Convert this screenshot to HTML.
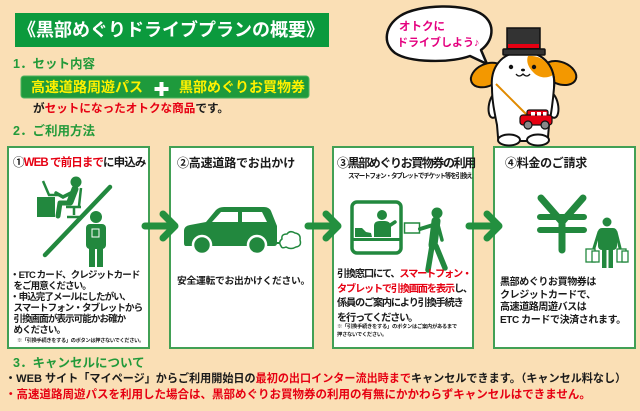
<!DOCTYPE html>
<html><head><meta charset="utf-8">
<style>
html,body{margin:0;padding:0;}
body{width:640px;height:411px;background:#FADFB5;position:relative;overflow:hidden;}
.t{position:absolute;white-space:nowrap;font-family:"Liberation Sans","Noto Sans CJK JP",sans-serif;font-weight:bold;line-height:1;color:#1a1a1a;}
.g{color:#229A3A;}
.r{color:#E60012;}
svg{position:absolute;left:0;top:0;}
</style></head><body>
<svg width="640" height="411" viewBox="0 0 640 411" xmlns="http://www.w3.org/2000/svg">
  <rect x="15" y="13" width="314" height="34" fill="#0B9A3D"/>
  <rect x="21" y="76" width="288" height="22" rx="3" fill="#1E9A3C" stroke="#4DB35F" stroke-width="1"/>
  <rect x="159.5" y="82" width="4" height="14" fill="#fff"/>
  <rect x="154.5" y="87" width="14" height="4" fill="#fff"/>

  <g fill="#fff" stroke="#42A055" stroke-width="2">
    <rect x="8" y="147" width="141" height="201"/>
    <rect x="170" y="147" width="143" height="201"/>
    <rect x="333" y="147" width="140" height="201"/>
    <rect x="494" y="147" width="141" height="201"/>
  </g>

  <g stroke="#23903F" stroke-width="7" stroke-linecap="round" stroke-linejoin="round" fill="none">
    <path d="M145,226 L172,226 M163,214 L175,226 L163,238"/>
    <path d="M308,226 L335,226 M326,214 L338,226 L326,238"/>
    <path d="M469,226 L496,226 M487,214 L499,226 L487,238"/>
  </g>

  <g fill="#22883E" stroke="#22883E">
    <rect x="37" y="197" width="18" height="20" stroke="none"/>
    <path d="M43,181 L49,195 L60,195" fill="none" stroke-width="2.5"/>
    <circle cx="76" cy="182" r="5.5" stroke="none"/>
    <path d="M75,189 L70,202" stroke-width="7" stroke-linecap="round" fill="none"/>
    <path d="M73,192 L63,197 L56,193" stroke-width="3.5" stroke-linecap="round" fill="none"/>
    <path d="M70,203 L60,203 L58,216" stroke-width="5" stroke-linecap="round" stroke-linejoin="round" fill="none"/>
    <path d="M81,188 L79,206 M66,207 L81,207 M74,207 L74,215 M67,217 L81,217" stroke-width="2.5" fill="none"/>
    <path d="M45,255 L110,187" stroke-width="4.5" stroke-linecap="round" fill="none"/>
    <circle cx="96" cy="217" r="6" stroke="none"/>
    <rect x="86" y="224" width="20" height="25" rx="4" stroke="none"/>
    <rect x="89" y="246" width="6" height="21" stroke="none"/>
    <rect x="97" y="246" width="6" height="21" stroke="none"/>
    <rect x="92" y="229" width="7" height="8" fill="none" stroke="#fff" stroke-width="1"/>
  </g>

  <g>
    <path d="M184,240 L184,231 Q184,226 190,225 L206,222 L216,210 Q219,207 224,207 L264,207 Q269,207 271,211 L277,226 L277,243 Q277,246 274,246 L186,246 Q184,246 184,243 Z" fill="#22883E"/>
    <polygon points="212,222 221,212 238,212 238,222" fill="#fff"/>
    <polygon points="242,212 262,212 267,222 242,222" fill="#fff"/>
    <circle cx="202" cy="245" r="9" fill="#22883E" stroke="#fff" stroke-width="2.5"/>
    <circle cx="257" cy="245" r="9" fill="#22883E" stroke="#fff" stroke-width="2.5"/>
    <path d="M273,243 L280,243" stroke="#22883E" stroke-width="2"/>
    <path d="M281,246 Q278,242 282,239 Q281,234 287,234 Q290,230 295,233 Q301,234 300,240 Q302,246 296,247 Q291,250 286,247 Q282,249 281,246 Z" fill="#fff" stroke="#22883E" stroke-width="1.5"/>
  </g>

  <g fill="#22883E">
    <rect x="352" y="202" width="49" height="51" rx="5" fill="none" stroke="#22883E" stroke-width="3.5"/>
    <rect x="352" y="238" width="49" height="3"/>
    <path d="M355,237 L355,228 L362,228 L366,232 L371,233 L372,237 Z"/>
    <circle cx="382" cy="215" r="5"/>
    <path d="M374,237 L374,226 Q374,221 380,221 L385,221 Q390,221 391,226 L391,237 Z"/>
    <path d="M389,226 L395,222" stroke="#22883E" stroke-width="3.5" stroke-linecap="round"/>
    <rect x="404.5" y="223" width="15" height="10" fill="#fff" stroke="#22883E" stroke-width="1.5"/>
    <circle cx="437" cy="213" r="5.5"/>
    <path d="M436,221 L433,245" stroke="#22883E" stroke-width="9" stroke-linecap="round"/>
    <path d="M433,225 L420,229" stroke="#22883E" stroke-width="4" stroke-linecap="round"/>
    <path d="M438,225 L442,240" stroke="#22883E" stroke-width="3.5" stroke-linecap="round"/>
    <path d="M432,246 L428,270 M436,246 L445,268" stroke="#22883E" stroke-width="5.5" stroke-linecap="round"/>
  </g>

  <g stroke="#22883E" stroke-linecap="round" fill="none">
    <path d="M541,198 L562,222 L583,198" stroke-width="7" stroke-linejoin="round"/>
    <path d="M540,217 L584,217 M540,230 L584,230" stroke-width="6"/>
    <path d="M562,222 L562,250" stroke-width="7"/>
  </g>
  <g fill="#22883E">
    <circle cx="607" cy="222" r="4.5"/>
    <rect x="598" y="228" width="19" height="22" rx="4"/>
    <rect x="602" y="246" width="4.5" height="22"/>
    <rect x="608.5" y="246" width="4.5" height="22"/>
    <path d="M599,232 L594,248 M616,232 L620,248" stroke="#22883E" stroke-width="3" stroke-linecap="round"/>
    <g fill="#fff" stroke="#22883E" stroke-width="1.3">
      <rect x="586" y="249" width="9" height="13"/>
      <rect x="592" y="251" width="7" height="11"/>
      <rect x="617" y="249" width="9" height="13"/>
      <rect x="622" y="251" width="6" height="11"/>
    </g>
  </g>

  <path d="M400,16 C418,4 466,3 483,15 C496,25 493,41 481,50 L487,64 L470,56 C450,63 410,63 395,53 C382,43 385,26 400,16 Z" fill="#fff" stroke="#111" stroke-width="2.5" stroke-linejoin="round"/>

  <g stroke="#111" stroke-width="2">
    <ellipse cx="487" cy="75" rx="17" ry="11" transform="rotate(-25 487 75)" fill="#F39800"/>
    <ellipse cx="560" cy="73" rx="17" ry="11" transform="rotate(22 560 73)" fill="#F39800"/>
    <ellipse cx="495" cy="105" rx="6" ry="13" transform="rotate(12 495 105)" fill="#fff"/>
    <ellipse cx="552" cy="105" rx="6" ry="13" transform="rotate(-12 552 105)" fill="#fff"/>
    <path d="M523,52 C545,52 556,68 554,88 C553,100 552,110 549,125 L548,137 C548,144 538,144 528,141 L519,141 C508,144 498,144 498,137 L497,125 C494,110 492,100 492,88 C490,68 501,52 523,52 Z" fill="#fff"/>
    <ellipse cx="509" cy="140" rx="11" ry="5.5" fill="#fff"/>
    <ellipse cx="538" cy="140" rx="11" ry="5.5" fill="#fff"/>
  </g>
  <path d="M528,56 C540,55 550,62 553,75 C547,79 538,78 533,72 C528,67 526,61 528,56 Z" fill="#F39800"/>
  <path d="M523,52 C545,52 556,68 554,88" fill="none" stroke="#111" stroke-width="2"/>
  <circle cx="511" cy="67" r="2.2" fill="#111"/>
  <circle cx="534" cy="67" r="2.2" fill="#111"/>
  <ellipse cx="523" cy="70" rx="2" ry="1.4" fill="#111"/>
  <path d="M516,74 Q519,78 523,74 Q527,78 530,74" fill="none" stroke="#111" stroke-width="1.3"/>
  <path d="M496,84 L527,115" stroke="#E08A00" stroke-width="2"/>
  <rect x="507" y="28" width="33" height="20" fill="#333" stroke="#111" stroke-width="1.5"/>
  <rect x="508" y="44" width="31" height="4" fill="#E60012"/>
  <rect x="503" y="49" width="42" height="6" rx="1" fill="#333" stroke="#111" stroke-width="1.5"/>
  <rect x="527" y="110" width="21" height="9" rx="2" fill="#E60012" stroke="#111" stroke-width="1.2"/>
  <rect x="520" y="115" width="32" height="10" rx="3" fill="#E60012" stroke="#111" stroke-width="1.2"/>
  <rect x="531" y="112" width="4" height="3.5" fill="#fff"/>
  <rect x="537" y="112" width="4" height="3.5" fill="#fff"/>
  <rect x="543" y="112" width="3.5" height="3.5" fill="#fff"/>
  <circle cx="528" cy="125" r="4" fill="#888" stroke="#111" stroke-width="1.2"/>
  <circle cx="545" cy="125" r="4" fill="#888" stroke="#111" stroke-width="1.2"/>
</svg>

<div class="t" style="left:18px;top:21px;font-size:18px;color:#fff;">《黒部めぐりドライブプランの概要》</div>

<div class="t g" style="left:13px;top:58px;font-size:12.5px;">1．セット内容</div>
<div class="t" style="left:31px;top:80px;font-size:14px;color:#FFF100;">高速道路周遊パス</div>
<div class="t" style="left:179px;top:80px;font-size:14px;color:#FFF100;">黒部めぐりお買物券</div>
<div class="t" style="left:33px;top:103px;font-size:11.6px;">が<span class="r">セットになったオトクな商品</span>です。</div>
<div class="t g" style="left:13px;top:125px;font-size:12.5px;">2．ご利用方法</div>

<div class="t" style="left:13px;top:158px;font-size:11.5px;letter-spacing:-0.9px;">①<span class="r">WEB で前日まで</span>に申込み</div>
<div class="t" style="left:177px;top:157px;font-size:12px;letter-spacing:-0.2px;">②高速道路でお出かけ</div>
<div class="t" style="left:337px;top:157px;font-size:12px;letter-spacing:-1.4px;">③黒部めぐりお買物券の利用</div>
<div class="t" style="left:348px;top:174px;font-size:6.6px;letter-spacing:-1.2px;">スマートフォン・タブレットでチケット等を引換え</div>
<div class="t" style="left:505px;top:157px;font-size:12px;letter-spacing:-0.3px;">④料金のご請求</div>

<div class="t" style="left:10px;top:270px;font-size:9.5px;letter-spacing:-0.9px;line-height:11px;">・ETC カード、クレジットカード<br>&nbsp;&nbsp;をご用意ください。<br>・申込完了メールにしたがい、<br>&nbsp;&nbsp;スマートフォン・タブレットから<br>&nbsp;&nbsp;引換画面が表示可能かお確か<br>&nbsp;&nbsp;めください。</div>
<div class="t" style="left:17px;top:339px;font-size:5.2px;letter-spacing:-0.3px;">※「引換手続きをする」のボタンは押さないでください。</div>

<div class="t" style="left:177px;top:277px;font-size:9.8px;letter-spacing:-0.3px;">安全運転でお出かけください。</div>

<div class="t" style="left:337px;top:268px;font-size:10.2px;letter-spacing:-1.2px;line-height:14.6px;">引換窓口にて、<span class="r">スマートフォン・</span><br><span class="r">タブレットで引換画面を表示</span>し、<br>係員のご案内により引換手続き<br>を行ってください。</div>
<div class="t" style="left:337px;top:323px;font-size:5.3px;letter-spacing:-0.3px;line-height:8px;">※「引換手続きをする」のボタンはご案内があるまで<br>押さないでください。</div>

<div class="t" style="left:500px;top:277px;font-size:10px;letter-spacing:-0.4px;line-height:12.7px;">黒部めぐりお買物券は<br>クレジットカードで、<br>高速道路周遊バスは<br>ETC カードで決済されます。</div>

<div class="t" style="left:399px;top:22px;font-size:11.5px;color:#E4007F;">オトクに</div>
<div class="t" style="left:397px;top:38px;font-size:11px;color:#E4007F;">ドライブしよう♪</div>

<div class="t g" style="left:13px;top:357px;font-size:12.5px;">3．キャンセルについて</div>
<div class="t" style="left:5px;top:374px;font-size:11.1px;">・WEB サイト「マイページ」からご利用開始日の<span class="r">最初の出口インター流出時まで</span>キャンセルできます。（キャンセル料なし）</div>
<div class="t r" style="left:5px;top:390px;font-size:11.5px;">・高速道路周遊パスを利用した場合は、黒部めぐりお買物券の利用の有無にかかわらずキャンセルはできません。</div>
</body></html>
